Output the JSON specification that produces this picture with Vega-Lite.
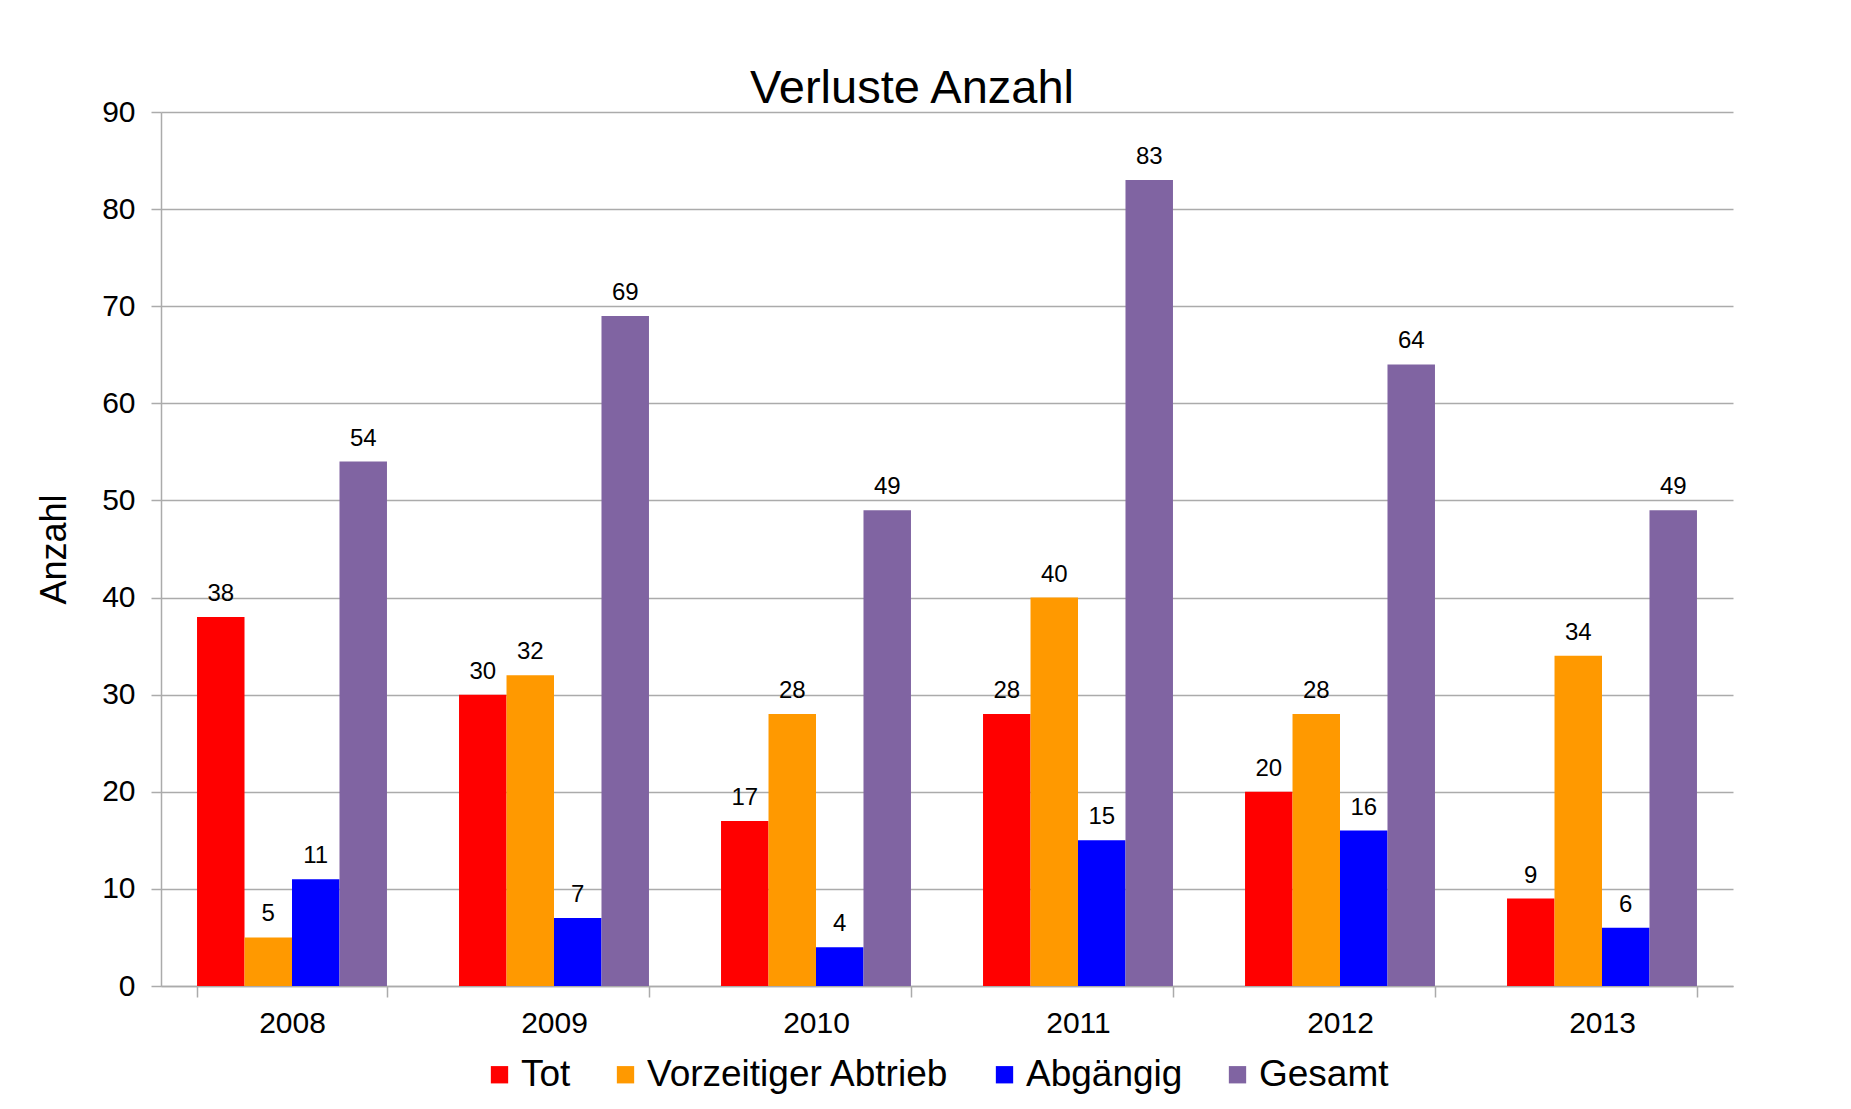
{
  "$schema": "https://vega.github.io/schema/vega-lite/v6.json",
  "width": 1572,
  "height": 874,
  "autosize": {"type": "none"},
  "padding": {"left": 161, "top": 112, "right": 118, "bottom": 123},
  "background": "white",
  "config": {
    "font": "Liberation Sans",
    "view": {"stroke": null},
    "axis": {"labelFont": "Liberation Sans", "titleFont": "Liberation Sans", "labelColor": "#000000", "titleColor": "#000000"}
  },
  "title": {
    "text": "Verluste Anzahl",
    "fontSize": 47,
    "fontWeight": "normal",
    "font": "Liberation Sans",
    "color": "#000000",
    "anchor": "middle",
    "frame": "group",
    "dx": -35,
    "offset": -16
  },
  "data": {
    "values": [
      {"Jahr": "2008", "Art": "Tot", "Anzahl": 38},
      {"Jahr": "2008", "Art": "Vorzeitiger Abtrieb", "Anzahl": 5},
      {"Jahr": "2008", "Art": "Abgängig", "Anzahl": 11},
      {"Jahr": "2008", "Art": "Gesamt", "Anzahl": 54},
      {"Jahr": "2009", "Art": "Tot", "Anzahl": 30},
      {"Jahr": "2009", "Art": "Vorzeitiger Abtrieb", "Anzahl": 32},
      {"Jahr": "2009", "Art": "Abgängig", "Anzahl": 7},
      {"Jahr": "2009", "Art": "Gesamt", "Anzahl": 69},
      {"Jahr": "2010", "Art": "Tot", "Anzahl": 17},
      {"Jahr": "2010", "Art": "Vorzeitiger Abtrieb", "Anzahl": 28},
      {"Jahr": "2010", "Art": "Abgängig", "Anzahl": 4},
      {"Jahr": "2010", "Art": "Gesamt", "Anzahl": 49},
      {"Jahr": "2011", "Art": "Tot", "Anzahl": 28},
      {"Jahr": "2011", "Art": "Vorzeitiger Abtrieb", "Anzahl": 40},
      {"Jahr": "2011", "Art": "Abgängig", "Anzahl": 15},
      {"Jahr": "2011", "Art": "Gesamt", "Anzahl": 83},
      {"Jahr": "2012", "Art": "Tot", "Anzahl": 20},
      {"Jahr": "2012", "Art": "Vorzeitiger Abtrieb", "Anzahl": 28},
      {"Jahr": "2012", "Art": "Abgängig", "Anzahl": 16},
      {"Jahr": "2012", "Art": "Gesamt", "Anzahl": 64},
      {"Jahr": "2013", "Art": "Tot", "Anzahl": 9},
      {"Jahr": "2013", "Art": "Vorzeitiger Abtrieb", "Anzahl": 34},
      {"Jahr": "2013", "Art": "Abgängig", "Anzahl": 6},
      {"Jahr": "2013", "Art": "Gesamt", "Anzahl": 49}
    ]
  },
  "encoding": {
    "x": {
      "field": "Jahr",
      "type": "nominal",
      "scale": {"paddingInner": 0.275, "paddingOuter": 0.1375},
      "axis": {
        "title": null,
        "labelAngle": 0,
        "labelFontSize": 30,
        "labelPadding": 11,
        "tickBand": "extent",
        "tickSize": 11,
        "tickColor": "#ababab",
        "tickWidth": 1.5,
        "domainColor": "#ababab",
        "domainWidth": 1.5,
        "grid": false
      }
    },
    "xOffset": {
      "field": "Art",
      "type": "nominal",
      "sort": ["Tot", "Vorzeitiger Abtrieb", "Abgängig", "Gesamt"],
      "scale": {"paddingInner": 0, "paddingOuter": 0}
    },
    "y": {
      "field": "Anzahl",
      "type": "quantitative",
      "scale": {"domain": [0, 90]},
      "axis": {
        "title": "Anzahl",
        "titleFontSize": 36,
        "titleFontWeight": "normal",
        "titlePadding": 28,
        "labelFontSize": 30,
        "labelPadding": 16,
        "values": [0, 10, 20, 30, 40, 50, 60, 70, 80, 90],
        "tickSize": 10,
        "tickColor": "#ababab",
        "tickWidth": 1.5,
        "domainColor": "#ababab",
        "domainWidth": 1.5,
        "gridColor": "#ababab",
        "gridWidth": 1.5
      }
    }
  },
  "layer": [
    {
      "mark": {"type": "bar"},
      "encoding": {
        "color": {
          "field": "Art",
          "type": "nominal",
          "scale": {
            "domain": ["Tot", "Vorzeitiger Abtrieb", "Abgängig", "Gesamt"],
            "range": ["#FF0000", "#FF9900", "#0000FF", "#8064A2"]
          },
          "legend": {
            "title": null,
            "orient": "none",
            "direction": "horizontal",
            "legendX": 320,
            "legendY": 944,
            "symbolType": "square",
            "symbolSize": 300,
            "symbolStrokeWidth": 0,
            "labelFontSize": 37,
            "labelFont": "Liberation Sans",
            "labelColor": "#000000",
            "labelOffset": 3,
            "columnPadding": 36,
            "labelLimit": 500
          }
        }
      }
    },
    {
      "mark": {"type": "text", "baseline": "alphabetic", "dy": -16, "fontSize": 24, "color": "#000000", "font": "Liberation Sans"},
      "encoding": {
        "text": {"field": "Anzahl", "type": "quantitative"}
      }
    }
  ]
}
